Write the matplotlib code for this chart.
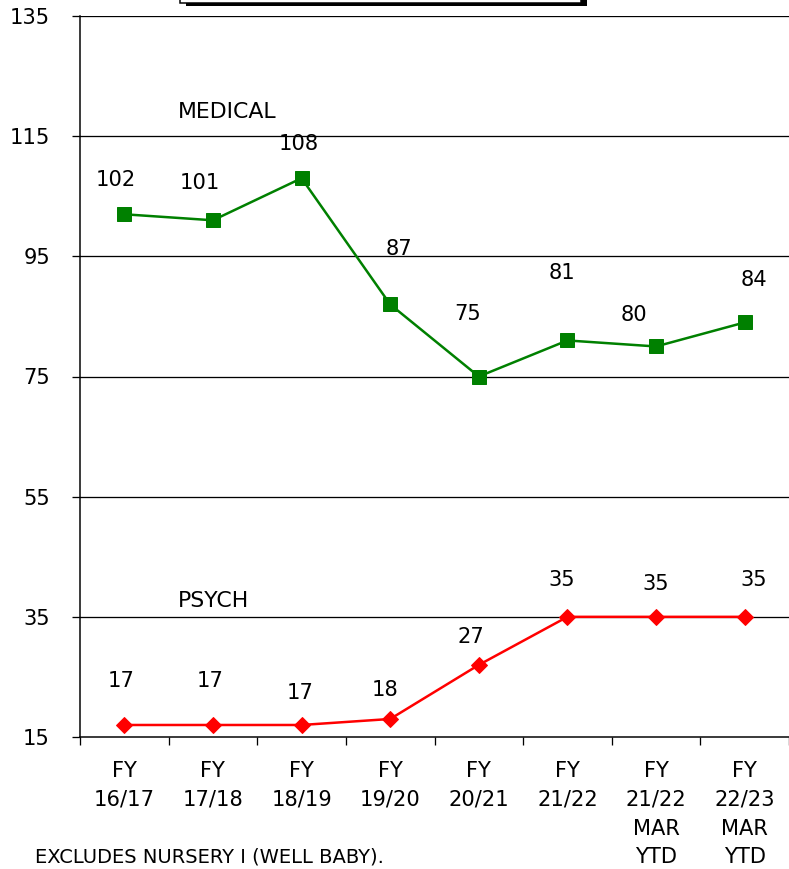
import matplotlib
matplotlib.use("Agg")
import matplotlib.pyplot as plt
from matplotlib.patches import Rectangle

categories = ["FY\n16/17", "FY\n17/18", "FY\n18/19", "FY\n19/20", "FY\n20/21",
              "FY\n21/22", "FY\n21/22\nMAR\nYTD", "FY\n22/23\nMAR\nYTD"]
medical = [102, 101, 108, 87, 75, 81, 80, 84]
psych = [17, 17, 17, 18, 27, 35, 35, 35]
yticks = [15, 35, 55, 75, 95, 115, 135]

# label offsets (points), picked to mimic the original
med_off = [(-8, 34), (-13, 37), (-3, 34), (9, 55), (-11, 62), (-5, 67), (-22, 31), (9, 42)]
psy_off = [(-3, 44), (-3, 44), (-1, 32), (-5, 29), (-8, 28), (-6, 37), (0, 33), (9, 37)]

fig = plt.figure(figsize=(789 / 72, 869 / 72), dpi=72)
ax = fig.add_axes([80 / 789, 1 - 737 / 869, 1 - 80 / 789, (737 - 16) / 869])

x = list(range(len(categories)))
ax.plot(x, medical, color="#008000", lw=2.5, marker="s", ms=14, zorder=3, clip_on=False)
ax.plot(x, psych, color="#ff0000", lw=2.5, marker="D", ms=11, zorder=3, clip_on=False)

for i in x:
    ax.annotate(str(medical[i]), (i, medical[i]), xytext=med_off[i], textcoords="offset points",
                ha="center", va="center", fontsize=21)
    ax.annotate(str(psych[i]), (i, psych[i]), xytext=psy_off[i], textcoords="offset points",
                ha="center", va="center", fontsize=21)

ax.text(0.6, 119, "MEDICAL", fontsize=22, ha="left", va="center")
ax.text(0.6, 37.7, "PSYCH", fontsize=22, ha="left", va="center")

ax.set_xlim(-0.5, len(categories) - 0.5)
ax.set_ylim(15, 135)
ax.set_yticks(yticks)
ax.set_yticklabels([str(v) for v in yticks], fontsize=21)
for v in yticks[1:]:
    ax.axhline(v, color="black", lw=1.3, zorder=1)

ax.set_xticks([i - 0.5 for i in x] + [len(categories) - 0.5])
ax.set_xticklabels([])
ax.set_xticks(x, minor=True)
ax.set_xticklabels(categories, minor=True, fontsize=21, linespacing=1.55, va="top")
ax.tick_params(axis="x", which="minor", length=0, pad=24)
ax.tick_params(axis="x", which="major", length=8, width=1.3, direction="out")
ax.tick_params(axis="y", length=8, width=1.3, direction="out", pad=22)

for s in ["top", "right"]:
    ax.spines[s].set_visible(False)
ax.spines["left"].set_linewidth(1.5)
ax.spines["bottom"].set_linewidth(1.5)

# cut-off title box at the top
fig.patches.append(Rectangle((186 / 789, 1 - 6 / 869), 401 / 789, 10 / 869,
                             transform=fig.transFigure, facecolor="black", edgecolor="none"))
fig.patches.append(Rectangle((180 / 789, 1 - 3 / 869), 401 / 789, 10 / 869,
                             transform=fig.transFigure, facecolor="white", edgecolor="black", lw=1.5))

fig.text(35 / 789, 1 - 857 / 869, "EXCLUDES NURSERY I (WELL BABY).", fontsize=19.5, va="center")

fig.savefig("out.png", dpi=72)
